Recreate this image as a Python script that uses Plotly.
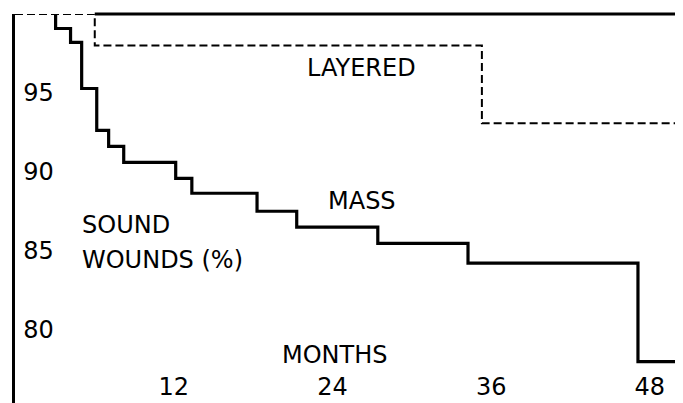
import plotly.graph_objects as go

# Data (months, % sound wounds)
mass_months = [3.07, 4.2, 5.04, 6.18, 7.08, 8.22, 12.15, 13.37, 18.3, 21.3, 27.43, 34.25, 47.1]
mass_pct = [99.08, 98.2, 95.28, 92.63, 91.61, 90.6, 89.59, 88.64, 87.5, 86.49, 85.47, 84.21, 77.97]
layered_months = [6.03, 35.3]
layered_pct = [98.0, 93.07]
start_pct = 100
x_end = 49.9
x_ticks = [12, 24, 36, 48]
y_ticks = [80, 85, 90, 95]

FONT = "DejaVu Sans"
FS = 24

fig = go.Figure()

fig.add_trace(go.Scatter(
    x=[0] + layered_months + [x_end],
    y=[start_pct] + layered_pct + [layered_pct[-1]],
    mode="lines", line=dict(color="black", width=2, dash="8px,4px", shape="hv"),
    hoverinfo="skip", showlegend=False))

fig.add_trace(go.Scatter(
    x=[mass_months[0]] + mass_months + [x_end],
    y=[start_pct] + mass_pct + [mass_pct[-1]],
    mode="lines", line=dict(color="black", width=3.2, shape="hv"),
    hoverinfo="skip", showlegend=False))

# top border (solid part, right of the layered first step)
fig.add_shape(type="line", xref="x", yref="paper",
              x0=layered_months[0], x1=x_end, y0=1, y1=1,
              line=dict(color="black", width=3))

annots = [
    dict(x=26.2, y=96.55, text="LAYERED", xanchor="center"),
    dict(x=26.2, y=88.13, text="MASS", xanchor="center"),
    dict(x=4.9, y=86.65, text="SOUND", xanchor="left"),
    dict(x=4.9, y=84.4, text="WOUNDS (%)", xanchor="left"),
    dict(x=24.2, y=78.4, text="MONTHS", xanchor="center"),
]
for a in annots:
    fig.add_annotation(x=a["x"], y=a["y"], text=a["text"], xanchor=a["xanchor"],
                       yanchor="middle", showarrow=False,
                       font=dict(family=FONT, size=FS, color="black"))

# the page body has an 8px margin; margins compensate for it
fig.update_layout(
    width=683, height=403,
    margin=dict(l=7, r=16, t=5.5, b=8),
    paper_bgcolor="white", plot_bgcolor="white",
    font=dict(family=FONT, size=FS, color="black"),
    xaxis=dict(range=[0, x_end], tickvals=x_ticks, ticks="", showgrid=False,
               zeroline=False, showline=False, ticklabelposition="inside",
               tickfont=dict(family=FONT, size=FS, color="black")),
    yaxis=dict(range=[75.35, 100], tickvals=y_ticks, ticks="", showgrid=False,
               zeroline=False, showline=True, linecolor="black", linewidth=3,
               mirror=True, ticklabelposition="inside", ticklabelstandoff=10,
               tickfont=dict(family=FONT, size=FS, color="black")),
)

fig.write_html("out.html")
